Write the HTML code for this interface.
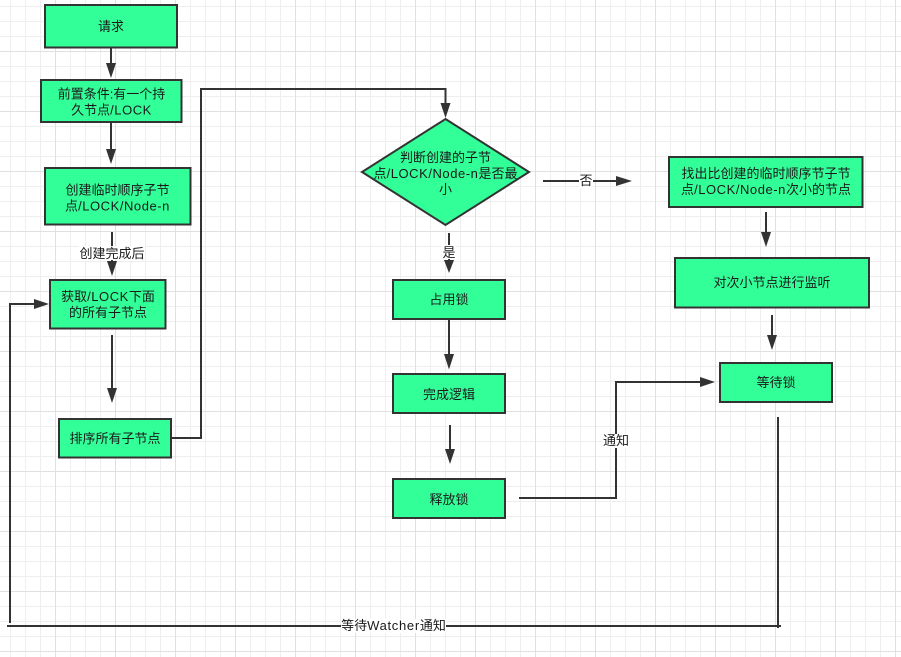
<!DOCTYPE html>
<html lang="zh">
<head>
<meta charset="utf-8">
<title>流程图</title>
<style>
html,body{margin:0;padding:0;background:#fff;width:901px;height:657px;overflow:hidden}
svg{display:block}
text{font-family:"Liberation Sans","Noto Sans CJK SC",sans-serif;font-size:13px;fill:#1a1a1a;text-anchor:middle}
tspan{letter-spacing:.55px}
.b{fill:#33ff99;stroke:#333;stroke-width:2}
.l{fill:none;stroke:#333;stroke-width:2}
.h{fill:#333;stroke:none}
.w{fill:#fff}
</style>
</head>
<body>
<svg width="901" height="657" viewBox="0 0 901 657" xmlns="http://www.w3.org/2000/svg">
<defs>
<pattern id="g1" width="15" height="15" patternUnits="userSpaceOnUse" x="10" y="6">
<rect x="0" y="0" width="1" height="15" fill="#eeeeee"/>
<rect x="0" y="0" width="15" height="1" fill="#eeeeee"/>
</pattern>
<pattern id="g2" width="60" height="60" patternUnits="userSpaceOnUse" x="55" y="51">
<rect x="0" y="0" width="1" height="60" fill="#e0e0e0"/>
<rect x="0" y="0" width="60" height="1" fill="#e0e0e0"/>
</pattern>
</defs>
<rect width="901" height="657" fill="#fff"/>
<rect width="901" height="657" fill="url(#g1)"/>
<rect width="901" height="657" fill="url(#g2)"/>

<!-- connectors -->
<path class="l" d="M111 47V65"/><path class="h" d="M106 63H116L111 78Z"/>
<path class="l" d="M111 122V151"/><path class="h" d="M106 149H116L111 164Z"/>
<path class="l" d="M112 232V263"/><path class="h" d="M107 261H117L112 276Z"/>
<path class="l" d="M112 335V390"/><path class="h" d="M107 388H117L112 403Z"/>
<path class="l" d="M171 438H201V89H445.5V105"/><path class="h" d="M440.5 103H450.5L445.5 118Z"/>
<path class="l" d="M10 623V304H36"/><path class="h" d="M34 299V309L49 304Z"/>
<path class="l" d="M543 181H618"/><path class="h" d="M616 176V186L632 181Z"/>
<path class="l" d="M449 233V262"/><path class="h" d="M444 260H454L449 273Z"/>
<path class="l" d="M449 319V356"/><path class="h" d="M444 354H454L449 369.500Z"/>
<path class="l" d="M450 425V451"/><path class="h" d="M445 449H455L450 464Z"/>
<path class="l" d="M519 498H616V382H702"/><path class="h" d="M700 377V387L715 382Z"/>
<path class="l" d="M766 212V234"/><path class="h" d="M761 232H771L766 247Z"/>
<path class="l" d="M772 315V337"/><path class="h" d="M767 335H777L772 350Z"/>
<path class="l" d="M778 417V628"/>
<path class="l" d="M7 626H781"/>

<!-- nodes -->
<rect class="b" x="45" y="5" width="132" height="42.500"/>
<rect class="b" x="41" y="80" width="140.500" height="42"/>
<rect class="b" x="45" y="168" width="145.500" height="56.500"/>
<rect class="b" x="50" y="280" width="115.500" height="48.500"/>
<rect class="b" x="59" y="419" width="112" height="38.500"/>
<path class="b" d="M445.500 119L529 172L445.500 225L362 172Z"/>
<rect class="b" x="393" y="280" width="112" height="39"/>
<rect class="b" x="393" y="374" width="112" height="39"/>
<rect class="b" x="393" y="479" width="112" height="39"/>
<rect class="b" x="669" y="157" width="193.500" height="50"/>
<rect class="b" x="675" y="258" width="194" height="49.500"/>
<rect class="b" x="720" y="363" width="112" height="39"/>

<!-- node text -->
<text x="111" y="31">请求</text>
<text x="111.500" y="98.500">前置条件:有一个持</text>
<text x="111.500" y="114.500">久节点<tspan>/LOCK</tspan></text>
<text x="117.500" y="194.500">创建临时顺序子节</text>
<text x="117.500" y="210.500">点<tspan>/LOCK/Node-n</tspan></text>
<text x="108" y="301">获取<tspan>/LOCK</tspan>下面</text>
<text x="108" y="317">的所有子节点</text>
<text x="115" y="443">排序所有子节点</text>
<text x="445.500" y="162">判断创建的子节</text>
<text x="445.500" y="178">点<tspan>/LOCK/Node-n</tspan>是否最</text>
<text x="445.500" y="194">小</text>
<text x="449" y="304">占用锁</text>
<text x="449" y="399">完成逻辑</text>
<text x="449" y="504">释放锁</text>
<text x="766" y="178">找出比创建的临时顺序节子节</text>
<text x="766" y="194">点<tspan>/LOCK/Node-n</tspan>次小的节点</text>
<text x="772" y="287">对次小节点进行监听</text>
<text x="776" y="387">等待锁</text>

<!-- connector labels -->
<rect class="w" x="79" y="246" width="66" height="14"/>
<text x="112" y="258">创建完成后</text>
<rect class="w" x="579" y="174" width="14" height="14"/>
<text x="586" y="185">否</text>
<rect class="w" x="442" y="245" width="14" height="14"/>
<text x="449" y="257">是</text>
<rect class="w" x="603" y="434" width="26" height="14"/>
<text x="616" y="445">通知</text>
<rect class="w" x="341" y="619" width="105" height="14"/>
<text x="393.500" y="630">等待<tspan style="letter-spacing:.7px">Watcher</tspan>通知</text>
</svg>
</body>
</html>
